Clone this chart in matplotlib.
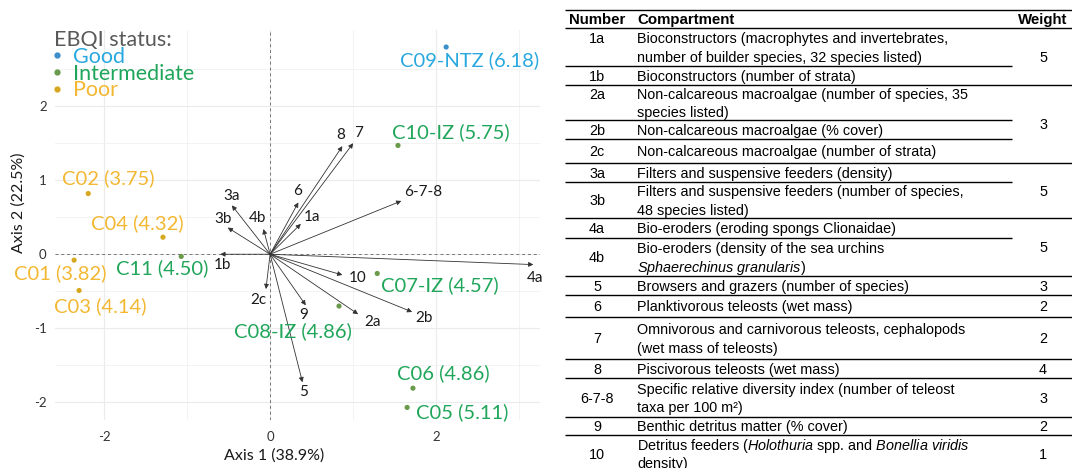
import numpy as np
import matplotlib.pyplot as plt
from matplotlib.lines import Line2D

plt.rcParams['font.family'] = ['Lato', 'DejaVu Sans']
plt.rcParams['axes.unicode_minus'] = False
plt.rcParams['mathtext.fontset'] = 'custom'
plt.rcParams['mathtext.rm'] = 'Liberation Sans'
plt.rcParams['mathtext.it'] = 'Liberation Sans:italic'

# PCA site scores
sites = ['C01', 'C02', 'C03', 'C04', 'C05', 'C06', 'C07-IZ', 'C08-IZ', 'C09-NTZ', 'C10-IZ', 'C11']
ebqi = [3.82, 3.75, 4.14, 4.32, 5.11, 4.86, 4.57, 4.86, 6.18, 5.75, 4.50]
axis1 = [-2.36, -2.19, -2.30, -1.29, 1.65, 1.72, 1.29, 0.83, 2.12, 1.54, -1.07]
axis2 = [-0.08, 0.82, -0.49, 0.23, -2.07, -1.81, -0.26, -0.70, 2.80, 1.47, -0.03]
status = ['Poor', 'Poor', 'Poor', 'Poor', 'Intermediate', 'Intermediate', 'Intermediate',
          'Intermediate', 'Good', 'Intermediate', 'Intermediate']
levels = ['Good', 'Intermediate', 'Poor']

# variable loadings (arrows)
variables = ['1a', '1b', '2a', '2b', '2c', '3a', '3b', '4a', '4b', '5', '6', '7', '8', '6-7-8', '9', '10']
load1 = [0.37, -0.60, 1.06, 1.71, -0.05, -0.46, -0.51, 3.17, -0.08, 0.39, 0.34, 1.00, 0.87, 1.58, 0.43, 0.87]
load2 = [0.41, 0.00, -0.81, -0.78, -0.47, 0.66, 0.36, -0.14, 0.34, -1.73, 0.70, 1.50, 1.46, 0.72, -0.69, -0.28]

# table
numbers = ['1a', '1b', '2a', '2b', '2c', '3a', '3b', '4a', '4b', '5', '6', '7', '8', '6-7-8', '9', '10']
compartments = [
    'Bioconstructors (macrophytes and invertebrates,\nnumber of builder species, 32 species listed)',
    'Bioconstructors (number of strata)',
    'Non-calcareous macroalgae (number of species, 35\nspecies listed)',
    'Non-calcareous macroalgae (% cover)',
    'Non-calcareous macroalgae (number of strata)',
    'Filters and suspensive feeders (density)',
    'Filters and suspensive feeders (number of species,\n48 species listed)',
    'Bio-eroders (eroding spongs Clionaidae)',
    'Bio-eroders (density of the sea urchins\n$\\mathit{Sphaerechinus\\ granularis}$)',
    'Browsers and grazers (number of species)',
    'Planktivorous teleosts (wet mass)',
    'Omnivorous and carnivorous teleosts, cephalopods\n(wet mass of teleosts)',
    'Piscivorous teleosts (wet mass)',
    'Specific relative diversity index (number of teleost\ntaxa per 100 m²)',
    'Benthic detritus matter (% cover)',
    'Detritus feeders ($\\mathit{Holothuria}$ spp. and $\\mathit{Bonellia\\ viridis}$\ndensity)',
]
weights = [5, 3, 5, 5, 3, 2, 2, 4, 3, 2, 1]
weight_spans = [2, 3, 2, 2, 1, 1, 1, 1, 1, 1, 1]

# layout / style
dot_col = {'Good': '#3D8EC9', 'Intermediate': '#6A9B4D', 'Poor': '#D6A821'}
text_col = {'Good': '#29A8E0', 'Intermediate': '#20A65A', 'Poor': '#F3B731'}
site_off = [(-14, -13), (20, 15), (21, -16), (-26, 14), (55, -5), (30, 15),
            (63, -12), (-46, -25), (23, -13), (53, 13), (-19, -12)]
var_off = [(11, 7), (2, -11), (14, -8), (12, -6), (-8, -11), (0, 9), (-5, 9), (2, -13),
           (-6, 11), (1, -10), (-1, 11), (5, 10), (-2, 11), (22, 9), (-2, -10), (15, -3)]
row_heights = [38, 19, 35, 19, 24, 19, 36, 20, 38, 19, 22, 42, 19, 39, 18, 37]
top_num = ['1a', '2a']

W, H = 1072, 468
fig = plt.figure(figsize=(W / 100, H / 100), dpi=100)

# ---------- biplot ----------
ax = fig.add_axes([55 / W, 1 - 420 / H, 485 / W, 390 / H])
ax.set_xlim(-2.59, 3.25)
ax.set_ylim(-2.24, 3.03)
ax.set_xticks([-2, 0, 2])
ax.set_xticks([-1, 1, 3], minor=True)
ax.set_yticks([-2, -1, 0, 1, 2])
ax.set_yticks([-1.5, -0.5, 0.5, 1.5, 2.5], minor=True)
ax.grid(which='major', color='#EBEBEB', lw=0.8)
ax.grid(which='minor', color='#F1F1F1', lw=0.6)
ax.set_axisbelow(True)
ax.tick_params(which='both', length=0, labelsize=9.5, labelcolor='#333333')
ax.tick_params(axis='y', pad=6)
ax.tick_params(axis='x', pad=8)
for s in ax.spines.values():
    s.set_visible(False)

ax.axhline(0, color='#777777', lw=0.7, ls=(0, (3, 3)), zorder=1)
ax.axvline(0, color='#777777', lw=0.7, ls=(0, (3, 3)), zorder=1)

for v, x, y, (dx, dy) in zip(variables, load1, load2, var_off):
    ax.annotate('', xy=(x, y), xytext=(0, 0),
                arrowprops=dict(arrowstyle='-|>', color='#333333', lw=0.6,
                                mutation_scale=7, shrinkA=0, shrinkB=0))
    ax.annotate(v, xy=(x, y), xytext=(dx, dy), textcoords='offset pixels',
                ha='center', va='center', fontsize=11, color='#1a1a1a')

ax.scatter(axis1, axis2, s=14, c=[dot_col[s] for s in status], linewidths=0, zorder=3)
for name, val, x, y, st, (dx, dy) in zip(sites, ebqi, axis1, axis2, status, site_off):
    ax.annotate(f'{name} ({val:.2f})', xy=(x, y), xytext=(dx, dy), textcoords='offset pixels',
                ha='center', va='center', fontsize=14.5, color=text_col[st])

ax.set_xlabel('Axis 1 (38.9%)', fontsize=11.5, color='#1a1a1a')
ax.set_ylabel('Axis 2 (22.5%)', fontsize=11.5, color='#1a1a1a')
ax.xaxis.set_label_coords(0.4515, -0.072)
ax.yaxis.set_label_coords(-0.060, 0.556)

handles = [Line2D([], [], ls='', marker='o', ms=3.5, color=dot_col[k]) for k in levels]
leg = ax.legend(handles, levels, title='EBQI status:', loc='upper left',
                bbox_to_anchor=(54 / W, 1 - 30 / H), bbox_transform=fig.transFigure,
                frameon=False, fontsize=15.5, title_fontsize=15.5,
                labelcolor=[text_col[k] for k in levels], handlelength=0.3,
                handletextpad=0.6, labelspacing=-0.15, borderpad=0, borderaxespad=0,
                alignment='left')
leg.get_title().set_color('#595959')

# ---------- table ----------
tab = fig.add_axes([0, 0, 1, 1], zorder=-1)
tab.set_xlim(0, W)
tab.set_ylim(H, 0)
tab.axis('off')

x0, x1, xpart = 565, 1072, 1012
num_x, comp_x, w_x = 597, 637, 1043
tfont = dict(family='Liberation Sans', fontsize=10.4, color='black')
hfont = dict(tfont, fontsize=10.8, weight='bold')
line_h = 18.5
base = 4.8  # baseline below the visual middle of a line

tab.hlines([10, 28], x0, x1, color='black', lw=1.0)
tab.text(num_x, 19.5 + base, 'Number', ha='center', va='baseline', **hfont)
tab.text(comp_x, 19.5 + base, 'Compartment', ha='left', va='baseline', **hfont)
tab.text(w_x, 19.5 + base, 'Weight', ha='center', va='baseline', **hfont)

bounds = [28]
for h in row_heights:
    bounds.append(bounds[-1] + h)

for i, (num, comp) in enumerate(zip(numbers, compartments)):
    yc = (bounds[i] + bounds[i + 1]) / 2 + 0.5
    parts = comp.split('\n')
    first = yc - (len(parts) - 1) * line_h / 2
    for k, part in enumerate(parts):
        tab.text(comp_x, first + k * line_h + base, part, ha='left', va='baseline', **tfont)
    ny = first if num in top_num else yc
    tab.text(num_x, ny + base, num, ha='center', va='baseline', **tfont)

group_end = np.cumsum(weight_spans)
start = 0
for w, end in zip(weights, group_end):
    yc = (bounds[start] + bounds[end]) / 2 + 0.5
    tab.text(w_x, yc + base, str(w), ha='center', va='baseline', **tfont)
    for r in range(start + 1, end):
        tab.hlines(bounds[r], x0, xpart, color='black', lw=1.0)
    tab.hlines(bounds[end], x0, x1, color='black', lw=1.0)
    start = end

fig.savefig('out.png', dpi=100)
